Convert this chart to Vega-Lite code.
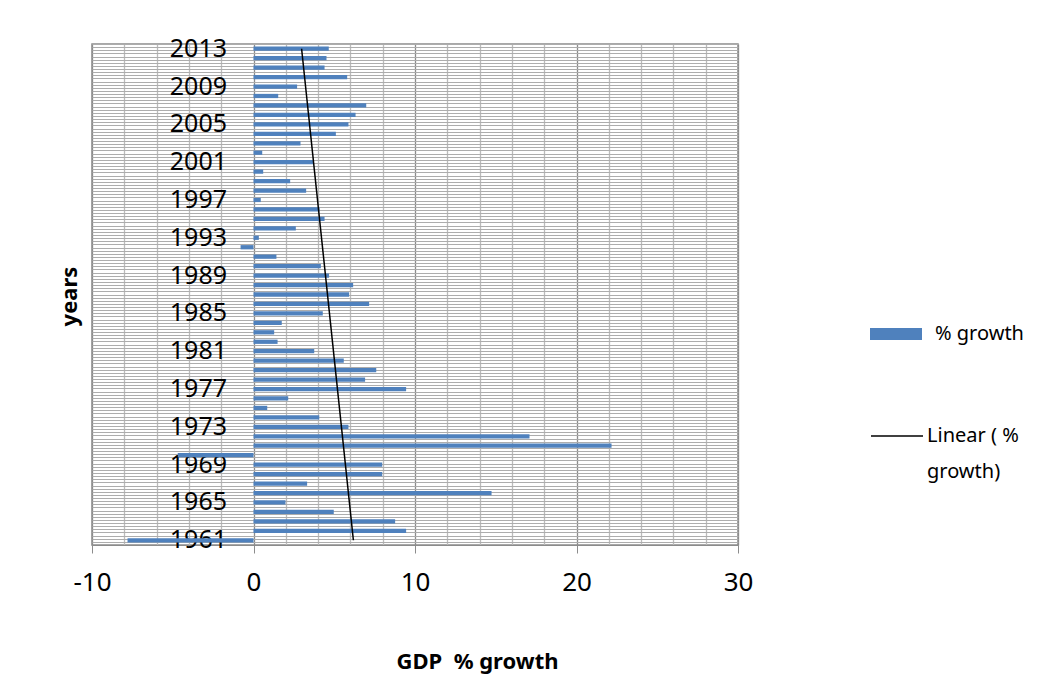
{
  "$schema": "https://vega.github.io/schema/vega-lite/v6.json",
  "width": 646,
  "height": 501,
  "autosize": {"type": "none"},
  "padding": {"left": 92, "top": 44, "right": 313, "bottom": 138},
  "background": "white",
  "config": {
    "font": "Noto Sans",
    "view": {"stroke": "#8C8C8C", "strokeWidth": 1.5}
  },
  "data": {
    "values": [
      {"year": 1961, "pct": -7.8}, {"year": 1962, "pct": 9.45}, {"year": 1963, "pct": 8.77},
      {"year": 1964, "pct": 4.97}, {"year": 1965, "pct": 1.98}, {"year": 1966, "pct": 14.74},
      {"year": 1967, "pct": 3.32}, {"year": 1968, "pct": 7.97}, {"year": 1969, "pct": 7.97},
      {"year": 1970, "pct": -4.69}, {"year": 1971, "pct": 22.17}, {"year": 1972, "pct": 17.09},
      {"year": 1973, "pct": 5.88}, {"year": 1974, "pct": 4.07}, {"year": 1975, "pct": 0.85},
      {"year": 1976, "pct": 2.15}, {"year": 1977, "pct": 9.45}, {"year": 1978, "pct": 6.91},
      {"year": 1979, "pct": 7.6}, {"year": 1980, "pct": 5.59}, {"year": 1981, "pct": 3.76},
      {"year": 1982, "pct": 1.49}, {"year": 1983, "pct": 1.28}, {"year": 1984, "pct": 1.75},
      {"year": 1985, "pct": 4.29}, {"year": 1986, "pct": 7.16}, {"year": 1987, "pct": 5.92},
      {"year": 1988, "pct": 6.17}, {"year": 1989, "pct": 4.68}, {"year": 1990, "pct": 4.17},
      {"year": 1991, "pct": 1.42}, {"year": 1992, "pct": -0.8}, {"year": 1993, "pct": 0.33},
      {"year": 1994, "pct": 2.62}, {"year": 1995, "pct": 4.4}, {"year": 1996, "pct": 4.09},
      {"year": 1997, "pct": 0.45}, {"year": 1998, "pct": 3.26}, {"year": 1999, "pct": 2.27},
      {"year": 2000, "pct": 0.6}, {"year": 2001, "pct": 3.72}, {"year": 2002, "pct": 0.54},
      {"year": 2003, "pct": 2.91}, {"year": 2004, "pct": 5.1}, {"year": 2005, "pct": 5.88},
      {"year": 2006, "pct": 6.32}, {"year": 2007, "pct": 6.98}, {"year": 2008, "pct": 1.53},
      {"year": 2009, "pct": 2.7}, {"year": 2010, "pct": 5.8}, {"year": 2011, "pct": 4.4},
      {"year": 2012, "pct": 4.52}, {"year": 2013, "pct": 4.66}
    ]
  },
  "resolve": {"scale": {"y": "independent", "x": "independent"}},
  "layer": [
    {
      "mark": {"type": "point", "opacity": 0},
      "encoding": {
        "y": {
          "field": "year",
          "type": "quantitative",
          "scale": {"domain": [0, 160], "nice": false, "zero": false},
          "axis": {
            "orient": "right",
            "grid": true,
            "gridColor": "#ADADAD",
            "gridWidth": 1,
            "tickCount": 160,
            "labels": false,
            "ticks": false,
            "domain": false,
            "title": null
          }
        },
        "x": {
          "field": "pct",
          "type": "quantitative",
          "scale": {"domain": [-10, 30], "nice": false},
          "axis": {
            "orient": "top",
            "values": [-8, -6, -4, -2, 2, 4, 6, 8, 12, 14, 16, 18, 22, 24, 26, 28],
            "grid": true,
            "gridColor": "#BBBBBB",
            "gridWidth": 1.3,
            "labels": false,
            "ticks": false,
            "domain": false,
            "title": null
          }
        }
      }
    },
    {
      "layer": [
        {
          "mark": {"type": "bar", "color": "#4F81BD"},
          "encoding": {
            "y": {
              "field": "year",
              "type": "ordinal",
              "sort": "descending",
              "scale": {"paddingInner": 0.55, "paddingOuter": 0.275},
              "axis": {
                "values": [1961, 1965, 1969, 1973, 1977, 1981, 1985, 1989, 1993, 1997, 2001, 2005, 2009, 2013],
                "offset": -161.5,
                "ticks": false,
                "tickSize": 0,
                "domain": false,
                "grid": false,
                "labelFontSize": 25,
                "labelColor": "#000000",
                "labelPadding": 27,
                "labelFont": "Noto Sans",
                "labelOverlap": false,
                "title": "years",
                "titleFontSize": 22,
                "titleFontWeight": "bold",
                "titleColor": "#000000",
                "titleX": -184.5,
                "titleY": 252,
                "titleAngle": -90,
                "titleAlign": "center",
                "titleBaseline": "middle"
              }
            },
            "x": {
              "field": "pct",
              "type": "quantitative",
              "stack": null,
              "scale": {"domain": [-10, 30], "nice": false},
              "axis": {
                "values": [-10, 0, 10, 20, 30],
                "labelExpr": "'' + datum.value",
                "labelOverlap": false,
                "labelBound": false,
                "labelFlush": false,
                "grid": true,
                "gridColor": "#8C8C8C",
                "gridWidth": 1.3,
                "tickSize": 8,
                "tickColor": "#8C8C8C",
                "domainColor": "#8C8C8C",
                "labelFontSize": 26,
                "labelColor": "#000000",
                "labelPadding": 16,
                "title": "GDP\u00a0\u00a0% growth",
                "titleFontSize": 22,
                "titleFontWeight": "bold",
                "titleColor": "#000000",
                "titleX": 385,
                "titleY": 116,
                "titleBaseline": "middle"
              }
            },
            "color": {
              "datum": "% growth",
              "scale": {"range": ["#4F81BD"]},
              "legend": {
                "orient": "none",
                "legendX": 778,
                "legendY": 264,
                "title": null,
                "padding": 0,
                "symbolType": "M-1,-0.23H1V0.23H-1Z",
                "symbolSize": 2704,
                "symbolStrokeWidth": 0,
                "labelFontSize": 20,
                "labelColor": "#000000",
                "labelOffset": 13
              }
            }
          }
        },
        {
          "transform": [
            {"regression": "pct", "on": "year", "method": "linear", "extent": [1961, 2013]}
          ],
          "mark": {"type": "line", "color": "#000000", "strokeWidth": 1.5},
          "encoding": {
            "y": {"field": "year", "type": "ordinal", "sort": "descending", "bandPosition": 0.5},
            "x": {"field": "pct", "type": "quantitative"},
            "stroke": {
              "datum": "Linear ( % growth)",
              "scale": {"range": ["#000000"]},
              "legend": {
                "orient": "none",
                "legendX": 778,
                "legendY": 365,
                "title": null,
                "padding": 0,
                "symbolType": "stroke",
                "symbolSize": 2704,
                "symbolStrokeWidth": 1.5,
                "labelFontSize": 20,
                "labelColor": "#000000",
                "labelOffset": 3,
                "labelExpr": "['Linear ( %', 'growth)']",
                "labelLimit": 200,
                "encode": {"labels": {"update": {"lineHeight": {"value": 36}}}}
              }
            }
          }
        }
      ]
    }
  ]
}
